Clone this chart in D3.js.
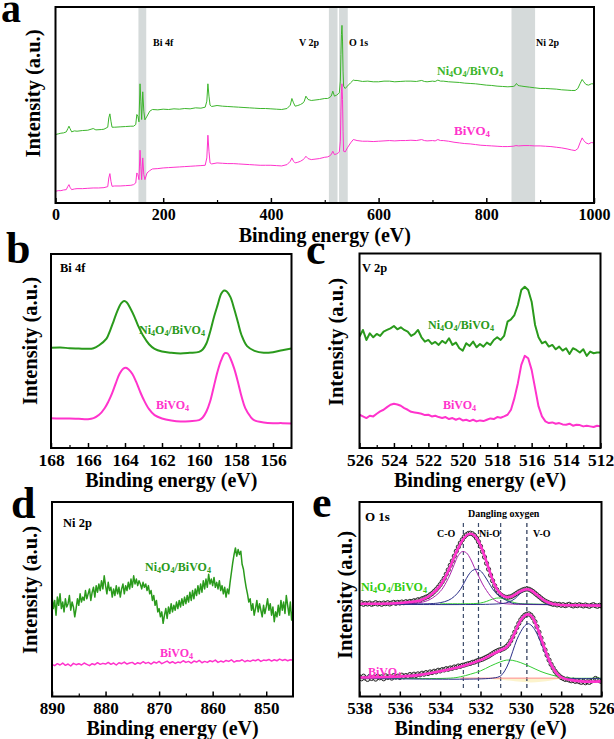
<!DOCTYPE html>
<html><head><meta charset="utf-8">
<script src="https://cdn.jsdelivr.net/npm/d3@7"></script>
<style>
body{margin:0;background:#fff}
text{font-family:"Liberation Serif","Times New Roman",serif;font-weight:bold}
</style>
</head><body>
<svg id="chart" width="614" height="739"></svg>
<script>
// ---------------- DATA ----------------
// Panel a: survey spectra [binding energy (eV), intensity (a.u.)]
const surveyNiBiVO4 = [[0,210],[5,212],[10,214],[15,215],[20,218],[23,228],[25,235],[27,228],[30,218],[35,221],[40,220],[50,222],[60,223],[66,226],[70,228],[75,224],[85,225],[90,226],[97,232],[99,260],[101,272],[103,250],[105,232],[110,232],[120,233],[130,234],[140,235],[145,235],[149,240],[151,270],[153,265],[155,248],[157,362],[158.5,310],[160,255],[162,338],[164,280],[166,254],[170,265],[175,280],[180,285],[190,284],[200,286],[210,285],[220,287],[230,286],[240,288],[250,287],[260,290],[270,289],[278,292],[281,310],[283,362],[285,325],[287,298],[290,294],[300,297],[310,295],[320,294],[330,293],[340,292],[350,291],[360,290],[370,289],[380,288],[390,288],[400,287],[410,286],[420,285],[430,288],[436,298],[439,318],[442,305],[445,295],[450,297],[455,300],[460,305],[462,310],[465,325],[469,315],[475,312],[480,313],[490,315],[500,318],[505,318],[508,320],[512,325],[515,340],[518,325],[522,328],[525,332],[527,335],[529,370],[530,450],[531,510],[532,537],[533,490],[534,400],[535,355],[538,348],[542,355],[548,365],[553,373],[556,372],[560,372],[570,369],[580,370],[590,368],[600,368],[610,370],[620,370],[630,368],[640,369],[650,370],[660,370],[670,369],[680,372],[685,369],[690,368],[700,370],[705,369],[710,373],[715,370],[720,370],[730,368],[740,367],[750,366],[760,364],[770,363],[780,362],[790,360],[800,358],[810,357],[820,355],[830,354],[840,353],[850,354],[853,356],[856,363],[859,357],[862,356],[866,355],[870,354],[880,352],[890,350],[900,348],[910,348],[920,347],[930,346],[940,344],[950,343],[958,342],[965,342],[970,348],[974,362],[978,375],[981,368],[985,360],[990,358],[995,362],[1000,362]];
const surveyBiVO4 = [[0,40],[5,42],[10,42],[15,44],[20,45],[23,55],[25,60],[27,52],[30,45],[35,47],[40,48],[50,48],[60,49],[70,50],[80,50],[90,51],[97,54],[99,80],[101,93],[103,70],[105,55],[110,56],[120,56],[130,57],[140,58],[145,60],[149,65],[151,95],[153,90],[155,75],[157,163],[158.5,115],[160,75],[162,140],[164,90],[166,75],[170,95],[175,102],[180,107],[190,108],[200,110],[210,111],[220,112],[230,113],[240,114],[250,115],[260,116],[270,117],[278,118],[281,140],[283,208],[285,160],[287,125],[290,122],[300,125],[310,124],[320,123],[330,123],[340,122],[350,121],[360,120],[370,119],[380,118],[390,118],[400,118],[410,117],[420,116],[430,120],[436,130],[439,140],[442,130],[445,125],[450,127],[455,130],[460,135],[462,138],[465,145],[469,138],[475,135],[480,136],[490,138],[500,142],[505,143],[508,145],[512,150],[515,160],[518,150],[522,152],[525,155],[527,158],[529,190],[530,280],[531,340],[532,362],[533,315],[534,220],[535,160],[538,158],[542,170],[548,185],[553,195],[556,194],[560,192],[570,190],[580,190],[590,189],[600,190],[610,191],[620,192],[630,191],[640,192],[650,192],[660,193],[670,192],[680,195],[685,192],[690,191],[700,192],[705,191],[710,195],[715,192],[720,192],[730,190],[740,187],[750,185],[760,183],[770,182],[780,180],[790,178],[800,177],[810,176],[820,175],[830,174],[840,174],[850,175],[855,177],[860,176],[870,177],[880,177],[890,176],[900,176],[910,175],[920,174],[930,172],[940,170],[950,167],[958,164],[965,162],[970,168],[974,185],[978,200],[981,192],[985,185],[990,182],[995,186],[1000,185]];
const surveyBands = [[154,168.5],[507.7,523.7],[526.6,542.7],[846.8,890.6]];
const surveyTicks = [0,200,400,600,800,1000];

// Panel b: Bi 4f
const bi4fNi = [[168,347],[167.5,348],[167,346],[166.5,345],[166,344],[165.7,346],[165.4,355],[165.0,375],[164.8,400],[164.6,430],[164.4,460],[164.2,482],[164.05,488],[163.9,484],[163.7,465],[163.5,442],[163.3,415],[163.0,382],[162.7,358],[162.4,344],[162.0,336],[161.5,332],[161.0,330],[160.5,332],[160.0,335],[159.8,342],[159.6,360],[159.4,395],[159.2,438],[159.0,475],[158.8,510],[158.65,520],[158.5,517],[158.3,500],[158.1,465],[157.9,425],[157.7,385],[157.4,352],[157.0,338],[156.5,332],[156.0,334],[155.5,340],[155.0,345]];
const bi4fBiVO4 = [[168,135],[167.5,134],[167,134],[166.5,133],[166,132],[165.7,135],[165.4,145],[165.1,165],[164.9,185],[164.7,210],[164.5,240],[164.3,268],[164.1,284],[163.95,287],[163.8,282],[163.6,268],[163.4,245],[163.2,217],[163.0,192],[162.7,162],[162.4,144],[162.0,134],[161.5,128],[161.0,125],[160.5,126],[160.0,129],[159.8,137],[159.6,155],[159.4,185],[159.2,230],[159.0,275],[158.8,310],[158.6,331],[158.45,330],[158.3,315],[158.1,285],[157.9,245],[157.7,200],[157.5,165],[157.2,138],[157.0,128],[156.5,122],[156.0,120],[155.5,120],[155.0,119]];
const bi4fTicks = [168,166,164,162,160,158,156];

// Panel c: V 2p (526 -> 512 eV, 0.2 eV step)
const v2pStart = 526, v2pStep = 0.2;
const v2pNi = [380,400,370,390,378,388,382,395,400,405,412,402,408,400,395,382,388,400,378,365,370,358,364,355,367,360,375,355,362,345,338,360,352,365,348,358,350,362,355,370,378,370,382,425,432,445,475,520,530,520,485,415,378,360,365,350,355,342,350,338,345,328,345,340,332,342,322,335,330,332,332];
const v2pBiVO4 = [145,140,135,142,140,148,155,160,168,175,178,176,172,165,160,154,152,150,148,144,145,140,142,138,135,138,132,135,130,134,128,130,126,130,125,128,126,130,134,132,138,136,140,145,160,195,240,295,322,315,280,225,170,140,125,120,122,118,120,116,115,118,112,115,114,110,112,110,108,112,110];
const v2pTicks = [526,524,522,520,518,516,514,512];

// Panel d: Ni 2p
const ni2pStart = 890, ni2pStepNi = 0.25, ni2pStepBi = 0.5;
const ni2pNi = [320,280,305,260,315,290,325,280,300,270,310,285,295,320,275,300,285,255,280,310,290,325,300,315,305,335,310,325,340,305,330,345,315,350,330,355,335,365,340,380,350,325,360,335,345,315,340,320,350,325,345,315,340,355,325,350,335,360,340,370,345,380,355,370,350,365,355,340,360,345,355,335,350,325,335,305,320,290,305,270,280,255,270,235,260,280,250,285,265,295,270,290,275,300,280,305,285,310,290,315,295,320,300,330,305,335,310,340,320,350,325,355,330,365,340,370,345,385,355,370,350,375,345,360,340,365,335,350,325,345,315,340,325,360,390,420,445,465,440,460,445,455,415,400,370,345,325,300,310,275,295,260,280,305,270,295,275,255,290,265,285,310,275,295,260,285,240,270,255,290,260,305,275,300,265,320,290,260,300,245,280];
const ni2pBiVO4 = [110,106,112,108,114,107,111,105,113,109,112,108,114,110,106,112,109,115,110,113,111,116,110,114,108,115,112,117,111,114,116,110,115,112,118,113,116,111,117,114,119,112,116,120,114,118,113,117,115,121,116,119,114,120,117,122,115,119,116,121,118,123,116,120,117,122,119,124,117,121,120,124,118,122,119,123,121,125,119,123,122,125,120,124,121,126,122,125,121,124,123];
const ni2pTicks = [890,880,870,860,850];

// Panel e: O 1s (raw points 538 -> 526 eV, 0.1 eV step)
const o1sStart = 538, o1sStep = 0.1;
const o1sNiRaw = [295,298,293,296,294,297,293,295,298,294,296,293,297,295,298,294,297,299,296,299,297,300,298,301,299,302,301,304,303,307,306,310,312,315,317,322,326,332,338,345,353,362,372,385,398,412,425,440,455,468,480,490,499,505,509,510,508,503,495,484,470,454,437,418,400,382,365,350,338,328,322,318,315,314,315,316,319,323,327,331,334,337,339,340,339,336,332,327,322,317,312,307,303,300,297,295,293,294,291,293,290,292,289,291,293,290,288,291,289,292,290,288,291,289,287,290,292,289,287,290,288];
const o1sBiRaw = [72,66,74,68,64,73,67,71,65,74,69,72,66,75,70,73,68,76,71,74,70,77,72,76,73,79,75,80,76,81,78,83,80,85,82,87,85,89,87,92,90,94,93,97,95,99,98,102,101,105,104,107,108,110,112,113,116,117,120,122,124,126,129,132,135,139,143,147,150,153,155,157,160,165,172,182,194,208,222,235,246,254,260,263,264,260,252,240,225,208,190,172,154,138,123,110,99,89,81,75,70,67,64,65,62,60,62,58,60,57,55,58,54,57,55,59,62,67,64,60,58];
const o1sNiFit = [[538,295],[537,295],[536,297],[535.5,300],[535,305],[534.5,320],[534,350],[533.7,382],[533.5,408],[533.3,438],[533.1,465],[532.9,488],[532.7,503],[532.5,508],[532.3,503],[532.1,486],[531.9,457],[531.7,422],[531.5,385],[531.3,353],[531.1,332],[530.9,320],[530.7,315],[530.5,316],[530.3,322],[530.1,330],[529.9,336],[529.7,339],[529.5,336],[529.3,327],[529.1,317],[528.9,307],[528.7,300],[528.4,294],[528,291],[527,290],[526,289]];
const o1sNiCO = [[538,295],[535.5,295],[535,298],[534.5,308],[534,332],[533.7,360],[533.5,385],[533.3,415],[533.1,442],[532.9,454],[532.7,450],[532.5,432],[532.3,405],[532.1,380],[531.9,355],[531.7,335],[531.5,318],[531.3,306],[531.1,299],[530.8,295],[526,292]];
const o1sNiNiO = [[538,295],[534.5,295],[534,298],[533.6,305],[533.3,317],[533,338],[532.8,360],[532.6,382],[532.4,396],[532.2,400],[532,395],[531.8,380],[531.6,360],[531.4,340],[531.2,325],[531,317],[530.7,304],[530.4,296],[530,294],[526,291]];
const o1sNiDang = [[534,295],[532.5,295],[532,297],[531.7,302],[531.4,309],[531.2,312],[531,312],[530.8,309],[530.6,304],[530.3,298],[530,295],[528,293]];
const o1sNiVO = [[538,294],[531,295],[530.6,300],[530.3,310],[530.1,322],[529.9,333],[529.7,338],[529.5,334],[529.3,325],[529.1,314],[528.9,304],[528.6,296],[528.2,292],[526,290]];
const o1sBiFit = [[538,70],[536,73],[535,78],[534,89],[533,103],[532,123],[531.5,138],[531,153],[530.7,163],[530.5,180],[530.3,206],[530.1,234],[529.9,253],[529.7,262],[529.5,259],[529.3,239],[529.1,208],[528.9,172],[528.7,138],[528.5,110],[528.3,89],[528.1,75],[527.9,68],[527.5,62],[527,58],[526,58]];
const o1sBiVO = [[538,68],[531.4,68],[531,75],[530.8,90],[530.6,115],[530.4,150],[530.2,185],[530,210],[529.8,228],[529.65,234],[529.5,230],[529.3,215],[529.1,190],[528.9,160],[528.7,130],[528.5,105],[528.3,87],[528.1,75],[527.9,69],[527.5,67],[526,67]];
const o1sBiDang = [[538,68],[533.5,68],[533,72],[532.5,80],[532,90],[531.5,105],[531,118],[530.7,123],[530.4,122],[530,115],[529.5,102],[529,88],[528.5,78],[528,71],[527.5,68],[526,68]];
const o1sBiBase = [[533,68],[528,68]];
const o1sBiMinor = [[532,68],[531,63],[530,57],[529.5,55],[529,57],[528.5,61],[528,66],[527.8,68]];
const o1sMarkers = [532.85,532.1,531.0,529.7];
const o1sTicks = [538,536,534,532,530,528,526];

// ---------------- DRAW ----------------
const svg = d3.select("#chart");
const MAG = "#ff33cc", GRN_A = "#3cb52c", GRN = "#2a9a1c";
let clipN = 0;

function panel(o){
  const x = d3.scaleLinear().domain(o.xd).range([o.x0, o.x1]);
  const y = d3.scaleLinear().domain(o.yd).range([o.y1, o.y0]);
  const id = "clip" + (clipN++);
  svg.append("clipPath").attr("id", id).append("rect")
     .attr("x", o.x0).attr("y", o.y0).attr("width", o.x1 - o.x0).attr("height", o.y1 - o.y0);
  const plot = svg.append("g").attr("clip-path", `url(#${id})`);
  const top = svg.append("g");
  function finish(){
    const ax = d3.axisBottom(x).tickValues(o.major).tickSizeInner(-5).tickSizeOuter(0).tickFormat(d3.format("d"));
    const ga = top.append("g").attr("transform", `translate(0,${o.y1})`).call(ax);
    ga.select(".domain").remove();
    ga.selectAll("line").attr("stroke", "#000").attr("stroke-width", 1.5);
    ga.selectAll("text").attr("dy", null).attr("y", o.tickY).attr("fill", "#000")
      .style("font-size", o.fs + "px").style("font-family", '"Liberation Serif",serif').style("font-weight", "bold");
    const am = d3.axisBottom(x).tickValues(o.minor).tickSizeInner(-3).tickSizeOuter(0).tickFormat("");
    const gm = top.append("g").attr("transform", `translate(0,${o.y1})`).call(am);
    gm.select(".domain").remove();
    gm.selectAll("line").attr("stroke", "#000").attr("stroke-width", 1.2);
    top.append("rect").attr("x", o.x0).attr("y", o.y0).attr("width", o.x1 - o.x0).attr("height", o.y1 - o.y0)
       .attr("fill", "none").attr("stroke", "#000").attr("stroke-width", 2);
    top.append("text").attr("x", (o.x0 + o.x1) / 2).attr("y", o.xtY).attr("text-anchor", "middle")
       .style("font-size", "20px").text("Binding energy (eV)");
    top.append("text").attr("transform", `translate(${o.ytX},${o.ytY}) rotate(-90)`).attr("text-anchor", "middle")
       .style("font-size", "20.5px").text("Intensity (a.u.)");
    top.append("text").attr("x", o.letterX).attr("y", o.letterY).style("font-size", o.letterFs + "px").text(o.letter);
  }
  return {x, y, plot, top, finish};
}

function line(p, data, color, w, curve){
  const l = d3.line().x(d => p.x(d[0])).y(d => p.y(d[1]));
  if (curve) l.curve(curve);
  p.plot.append("path").attr("d", l(data)).attr("fill", "none").attr("stroke", color)
    .attr("stroke-width", w).attr("stroke-linejoin", "round");
}
function seq(start, step, vals){ return vals.map((v, i) => [start - i * step, v]); }
function label(g, x, y, parts, color, fs){
  const t = g.append("text").attr("x", x).attr("y", y).attr("fill", color).style("font-size", fs + "px");
  let lowered = false;
  parts.forEach(pt => {
    if (typeof pt === "string") {
      const s = t.append("tspan").text(pt);
      if (lowered) { s.attr("dy", -2); lowered = false; }
    } else {
      t.append("tspan").style("font-size", (fs * 0.68) + "px").attr("dy", 2).text(pt.sub);
      lowered = true;
    }
  });
  return t;
}
const niLabel = ["Ni", {sub: "4"}, "O", {sub: "4"}, "/BiVO", {sub: "4"}];
const biLabel = ["BiVO", {sub: "4"}];
const smooth = d3.curveCatmullRom.alpha(0.5);

// Panel a
{
  const p = panel({x0: 55.5, x1: 594, y0: 7, y1: 203, xd: [0, 1000], yd: [5, 592],
    major: surveyTicks, minor: [100, 300, 500, 700, 900], fs: 16, tickY: 17,
    xtY: 242, ytX: 40, ytY: 93.5, letter: "a", letterX: 1, letterY: 22, letterFs: 40});
  surveyBands.forEach(b => p.plot.append("rect").attr("x", p.x(b[0])).attr("width", p.x(b[1]) - p.x(b[0]))
    .attr("y", 7).attr("height", 196).attr("fill", "#d5dada"));
  line(p, surveyBiVO4, MAG, 1);
  line(p, surveyNiBiVO4, GRN_A, 1);
  p.finish();
  p.top.append("text").attr("x", 153).attr("y", 46).style("font-size", "10px").text("Bi 4f");
  p.top.append("text").attr("x", 299).attr("y", 46).style("font-size", "10px").text("V 2p");
  p.top.append("text").attr("x", 349).attr("y", 46).style("font-size", "10px").text("O 1s");
  p.top.append("text").attr("x", 536).attr("y", 46).style("font-size", "10px").text("Ni 2p");
  label(p.top, 437, 75, niLabel, GRN_A, 12);
  label(p.top, 454, 134.5, biLabel, MAG, 13);
}

// Panel b
{
  const p = panel({x0: 51, x1: 291.5, y0: 254, y1: 448, xd: [168, 155], yd: [45, 630],
    major: bi4fTicks, minor: [167, 165, 163, 161, 159, 157], fs: 17.5, tickY: 18,
    xtY: 487, ytX: 37, ytY: 341, letter: "b", letterX: 6, letterY: 263, letterFs: 44});
  line(p, bi4fBiVO4, MAG, 2, smooth);
  line(p, bi4fNi, GRN, 2, smooth);
  p.finish();
  p.top.append("text").attr("x", 60).attr("y", 271.5).style("font-size", "12.5px").text("Bi 4f");
  label(p.top, 139, 334, niLabel, GRN, 12);
  label(p.top, 156, 409, biLabel, MAG, 12);
}

// Panel c
{
  const p = panel({x0: 359.5, x1: 600.5, y0: 253.5, y1: 448, xd: [526, 512], yd: [45, 630],
    major: v2pTicks, minor: [525, 523, 521, 519, 517, 515, 513], fs: 17.5, tickY: 18,
    xtY: 487, ytX: 343, ytY: 342, letter: "c", letterX: 306, letterY: 264, letterFs: 44});
  line(p, seq(v2pStart, v2pStep, v2pBiVO4), MAG, 2);
  line(p, seq(v2pStart, v2pStep, v2pNi), GRN, 2);
  p.finish();
  p.top.append("text").attr("x", 362).attr("y", 271.5).style("font-size", "12.5px").text("V 2p");
  label(p.top, 428, 329, niLabel, GRN, 12);
  label(p.top, 443, 409, biLabel, MAG, 12);
}

// Panel d
{
  const p = panel({x0: 52, x1: 293, y0: 502, y1: 696.5, xd: [890, 845], yd: [12, 605],
    major: ni2pTicks, minor: [885, 875, 865, 855], fs: 17, tickY: 17,
    xtY: 735, ytX: 37, ytY: 590, letter: "d", letterX: 11, letterY: 518, letterFs: 44});
  line(p, seq(ni2pStart, ni2pStepBi, ni2pBiVO4), MAG, 1.5);
  line(p, seq(ni2pStart, ni2pStepNi, ni2pNi), GRN, 1.5);
  p.finish();
  p.top.append("text").attr("x", 63).attr("y", 526.5).style("font-size", "12.5px").text("Ni 2p");
  label(p.top, 145, 571, niLabel, GRN, 12);
  label(p.top, 160, 657, biLabel, MAG, 12);
}

// Panel e
{
  const p = panel({x0: 359.5, x1: 601.5, y0: 502, y1: 696.5, xd: [538, 526], yd: [12, 605],
    major: o1sTicks, minor: [537, 535, 533, 531, 529, 527], fs: 17, tickY: 17,
    xtY: 735, ytX: 352, ytY: 595, letter: "e", letterX: 312, letterY: 517, letterFs: 44});
  p.plot.append("path").attr("d", d3.area().x(d => p.x(d[0])).y0(p.y(68)).y1(d => p.y(d[1])).curve(smooth)(o1sBiMinor))
    .attr("fill", "#fcf3cc").attr("stroke", "none");
  o1sMarkers.forEach((e, i) => p.plot.append("line").attr("x1", p.x(e)).attr("x2", p.x(e))
    .attr("y1", 523).attr("y2", 688).attr("stroke", i === 3 ? "#223050" : "#3a4a6a")
    .attr("stroke-width", 1.2).attr("stroke-dasharray", "4,3"));
  [o1sNiRaw, o1sBiRaw].forEach(arr => p.plot.selectAll(null).data(seq(o1sStart, o1sStep, arr)).enter()
    .append("circle").attr("cx", d => p.x(d[0])).attr("cy", d => p.y(d[1])).attr("r", 2.1)
    .attr("fill", "#d8d8d8").attr("stroke", "#1a1a1a").attr("stroke-width", 0.9));
  line(p, o1sNiDang, "#33cc33", 1, smooth);
  line(p, o1sNiCO, "#aa22aa", 1, smooth);
  line(p, o1sNiNiO, "#2b2f88", 1, smooth);
  line(p, o1sNiVO, "#2b2f88", 1, smooth);
  line(p, o1sBiBase, "#ff8888", 1);
  line(p, o1sBiDang, "#33cc33", 1, smooth);
  line(p, o1sBiVO, "#2b2f88", 1, smooth);
  line(p, o1sNiFit, MAG, 2.6, smooth);
  line(p, o1sBiFit, MAG, 2.6, smooth);
  p.finish();
  p.top.append("text").attr("x", 365).attr("y", 521).style("font-size", "13px").text("O 1s");
  p.top.append("text").attr("x", 468).attr("y", 516.5).style("font-size", "10px").text("Dangling oxygen");
  p.top.append("text").attr("x", 437).attr("y", 537).style("font-size", "10px").text("C-O");
  p.top.append("text").attr("x", 479).attr("y", 537).style("font-size", "10px").text("Ni-O");
  p.top.append("text").attr("x", 533).attr("y", 537).style("font-size", "10px").text("V-O");
  label(p.top, 361, 591, niLabel, "#33cc11", 12);
  label(p.top, 368, 676, biLabel, MAG, 12);
}
</script>
</body></html>
